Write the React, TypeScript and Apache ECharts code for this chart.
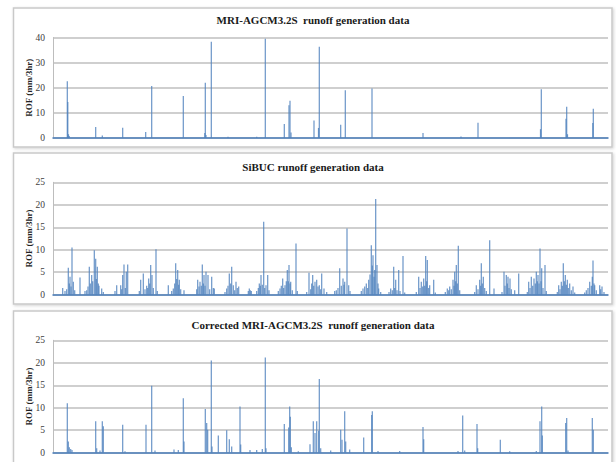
import React, { useEffect, useRef } from "react";
import * as echarts from "echarts";

// Time position (arbitrary time-step units across the record) and ROF values (mm/3hr)
const mriPos = [14.3, 14.8, 15.5, 16.2, 42.7, 49.3, 69.7, 92.7, 98.7, 130.3, 151.8, 152.3, 153, 158.3, 175, 203.7, 212.3, 231.3, 236, 237, 238, 261, 265.5, 266.3, 287.7, 292.3, 319, 370, 408, 425, 487.5, 488.3, 513, 513.7, 514.5, 539.8, 540.3];
const mriVal = [22.6, 14.3, 1.5, 0.8, 4.4, 1.0, 4.1, 2.4, 20.7, 16.7, 2, 22, 1.2, 38.3, 0.5, 0.5, 39.5, 5.6, 13, 14.8, 2.2, 7, 4, 36.3, 5.3, 19, 19.7, 2, 0.6, 6.1, 3.5, 19.4, 7.7, 12.4, 1.5, 6, 11.6];

const sibucPos = [
  9.7, 12, 13.7, 15.3, 16.3, 17, 18, 19, 20.3, 21.7, 27,
  32, 33.7, 35, 36.3, 37.3, 38.7, 39.7, 41.3, 42.7, 43.3, 44.3, 45.3, 46, 48.7, 50.3,
  62, 63.7, 67.7, 68.7, 69.7, 71, 72.3, 73.3, 74.7,
  86.3, 87.7, 90.3, 92, 93.7, 94.7, 95.7, 96.7, 97.7, 99, 100.3, 103, 104.3,
  115.3, 118.7, 120.3, 121.7, 122.7, 123.7, 124.7, 125.7, 126.3, 127.7, 131,
  143.7, 144.7, 146, 147, 148.3, 149.3, 150.3, 151, 152, 153, 155, 156.7, 158.7, 160.3, 161.3,
  172, 173.7, 175, 176.3, 177.7, 178.7, 180.3, 181.7, 183, 184.3, 185.7,
  195.3, 196.3, 197.3, 198.3,
  203.7, 205.3, 206.3, 207.3, 208, 209.3, 210.7, 211.7, 213, 214.7, 216,
  225.3, 227, 228.3, 229.7, 230.7, 232, 233.3, 234.3, 235.3, 236, 237, 237.7, 239.3, 243, 244.3,
  253.7, 256, 257.7, 258.7, 259.7, 260.7, 262, 263.7, 265, 266.3, 267.7, 268.7, 271, 273.7,
  281.7, 283.3, 285, 286.7, 288.3, 290, 291, 291.7, 294, 295.7, 297,
  308.3, 310, 311.7, 313.3, 314.7, 315.7, 317, 318.3, 319.3, 320, 321, 321.7, 322.7, 324, 325, 325.7, 327.7,
  336, 337.7, 339.3, 340.7, 341.7, 342.7, 344, 345.7, 347, 350, 351.7,
  363.3, 365.7, 367, 368.3, 369.7, 370.7, 371.7, 372.7, 373.7, 374.3, 375.7, 376.7, 380.7, 382.3,
  392.3, 394.3, 395.7, 396.7, 398.3, 400, 401, 401.7, 402.7, 403.3, 404.3, 405.3, 406.7,
  421.7, 423.3, 425, 426.7, 427.7, 428.3, 429.3, 430.3, 431.7, 433.3, 436.7, 441,
  449, 451, 452, 453.3, 454.3, 455, 456, 457, 458.3, 461.7, 465.7,
  474.3, 475.7, 477, 478.3, 479.7, 481, 482.3, 483.3, 484.3, 485, 486, 487, 488, 488.7, 490, 492, 493.3,
  504.3, 505.7, 507, 508.3, 509.3, 510.3, 511.3, 512.3, 513.3, 514.3, 515.3, 516.7, 518.3, 520, 521.7,
  531.7, 533.3, 535, 536.7, 538.3, 539.3, 540, 541, 541.7, 543.3, 546.7, 547.7, 549, 551
];
const sibucVal = [
  1.5, 0.8, 1.2, 6, 2.5, 4, 1.8, 10.5, 2.9, 1, 3.8,
  0.8, 1, 1.8, 6.2, 2.5, 4.4, 3, 9.9, 8, 3.5, 6.2, 2.5, 2, 1.4, 0.6,
  0.8, 2.1, 2.1, 1.2, 4.4, 6.7, 1.5, 5.1, 6.7,
  0.8, 3.3, 4.7, 1.2, 2, 1.5, 3.6, 2.5, 6.6, 4.4, 1.5, 10.1, 0.8,
  2.1, 0.8, 1.4, 2.5, 7, 3.5, 5.5, 2.2, 3.3, 1.2, 1,
  1.2, 3.3, 1.8, 2.9, 2, 6.7, 2.5, 4.4, 2, 5.1, 4.4, 1.2, 4, 1.5, 1.4,
  0.6, 1.4, 2, 4.7, 2.5, 6.2, 2.1, 1, 2.9, 1.5, 1.8,
  0.8, 1.4, 1, 0.8,
  0.8, 1.5, 2.5, 2, 4.4, 2.2, 16.2, 1.5, 2.1, 4.4, 1,
  0.8, 1.4, 2, 3.6, 1.5, 2.1, 3, 5.5, 3, 6.6, 2.5, 2.9, 1, 11.4, 0.8,
  0.6, 4.9, 1.2, 2.5, 4.4, 2, 2.9, 3.3, 1.8, 2.1, 1.2, 4.7, 1.4, 0.6,
  0.8, 1, 1.5, 5.9, 2, 3.6, 2.2, 2.9, 14.7, 2.1, 0.8,
  0.8, 1.4, 1.8, 2.5, 1.5, 3.3, 4.5, 11, 6.5, 8.8, 4, 5.5, 21.3, 6.6, 2.5, 1.4, 0.6,
  0.6, 1.4, 1, 6.2, 1.5, 3.3, 1, 5.5, 0.8, 8.6, 0.5,
  0.6, 4, 1.5, 2.9, 1.8, 3.6, 2, 8.6, 3, 7.7, 1.5, 2.1, 3.3, 0.5,
  0.6, 1.4, 1, 1.8, 1.2, 3.3, 2, 5.1, 3, 6.6, 2.5, 10.9, 1,
  0.6, 2.1, 1.2, 3.3, 2, 7, 2.5, 4, 1.5, 0.8, 12.1, 1.4,
  0.6, 5.1, 2, 4.4, 2.5, 4, 1.5, 3.6, 1.2, 1, 4.7,
  0.6, 2.9, 1.5, 4, 2, 3.6, 2.5, 5.1, 3, 4.4, 2.5, 10.3, 3, 5.9, 1.5, 6.6, 0.8,
  0.6, 2.1, 1.2, 2.9, 2, 7, 3, 4.4, 2.2, 3.3, 1.5, 2.5, 1, 1.8, 0.5,
  0.5, 1, 1.5, 2.9, 2, 4, 7.6, 2.5, 2.1, 1, 2.1, 1.2, 1.8, 0.6
];

const corrPos = [
  14.3, 15.3, 16.3, 17.7, 19, 42.7, 43.7, 47, 49.3, 50.3, 69.7, 72, 93, 98.7, 102, 121, 125.3, 130.3, 131,
  152.3, 153.7, 154.7, 158.3, 159, 165.3, 173.7, 176.3, 178.7, 187, 187.7, 197, 203.7, 209.3, 212.3, 213,
  231.3, 235.7, 236.7, 237.3, 238.3, 245.3, 257, 260.3, 262, 263.7, 265.7, 266.3, 267.7,
  277.7, 287.7, 289, 291.7, 292.7, 296.7, 310.7, 318.7, 319.3, 325, 346.7, 370, 370.7, 405, 409.7, 411.7,
  424, 424.7, 447.3, 456.7, 483.3, 487, 488.7, 489.3, 512.7, 513.7, 515, 539.3, 540.3
];
const corrVal = [
  11, 2.5, 1.2, 0.8, 0.6, 7, 1, 0.5, 7, 5.9, 6.2, 0.3, 6.2, 14.9, 0.5, 0.7, 0.6, 12.1, 2.5,
  9.7, 6.6, 5.1, 20.5, 1.4, 3.8, 5, 3, 1.4, 10.3, 1.8, 0.6, 0.6, 0.8, 21.2, 1,
  6.4, 5.6, 10.3, 8, 1.2, 0.3, 1.9, 7, 4.4, 7, 4.9, 16.4, 1,
  0.5, 5.1, 2.9, 9.2, 2.5, 0.7, 3.4, 8.4, 9.2, 0.4, 0.4, 5.7, 3, 0.4, 8.3, 0.5,
  6.4, 1, 2.9, 0.3, 0.4, 7, 10.3, 3.8, 6.6, 7.7, 0.5, 7.7, 5.1
];

const titles = [
  "MRI-AGCM3.2S  runoff generation data",
  "SiBUC runoff generation data",
  "Corrected MRI-AGCM3.2S  runoff generation data",
];
const yMax = [40, 25, 25];
const yStep = [10, 5, 5];
const yName = "ROF (mm/3hr)";

export default function App() {
  const ref = useRef<HTMLDivElement>(null);
  useEffect(() => {
    if (!ref.current) return;
    const chart = echarts.init(ref.current, null, { renderer: "svg" });
    const panels = [
      { pos: mriPos, val: mriVal, top: 37.5, height: 100.5 },
      { pos: sibucPos, val: sibucVal, top: 182.3, height: 112.4 },
      { pos: corrPos, val: corrVal, top: 340.3, height: 112.4 },
    ];
    const boxes = [
      { y: 8, h: 139 },
      { y: 153, h: 151 },
      { y: 311, h: 160 },
    ];
    const titleY = [20, 166.5, 325];
    const serif = "'Liberation Serif', 'Times New Roman', serif";
    const option: any = {
      animation: false,
      backgroundColor: "#ffffff",
      graphic: {
        elements: [
          ...boxes.map((b) => ({
            type: "rect",
            z: -10,
            shape: { x: 13.5, y: b.y, width: 598.5, height: b.h },
            style: {
              fill: "#ffffff",
              stroke: "#c9c9c9",
              lineWidth: 1.5,
              shadowBlur: 3,
              shadowColor: "rgba(0,0,0,0.18)",
              shadowOffsetX: 1,
              shadowOffsetY: 1,
            },
          })),
          ...titles.map((t, i) => ({
            type: "text",
            x: 313,
            y: titleY[i],
            z: 10,
            style: {
              text: t,
              fill: "#1a1a1a",
              font: `bold 11px ${serif}`,
              textAlign: "center",
              textVerticalAlign: "middle",
            },
          })),
        ],
      },
      grid: panels.map((p) => ({
        left: 53,
        width: 555,
        top: p.top,
        height: p.height,
        containLabel: false,
      })),
      xAxis: panels.map((_, i) => ({
        type: "value",
        gridIndex: i,
        min: 0,
        max: 555,
        axisLabel: { show: false },
        axisTick: { show: false },
        splitLine: { show: false },
        axisLine: { show: true, lineStyle: { color: "#4a7ebb", width: 1.5 } },
      })),
      yAxis: panels.map((_, i) => ({
        type: "value",
        gridIndex: i,
        min: 0,
        max: yMax[i],
        interval: yStep[i],
        name: yName,
        nameLocation: "middle",
        nameGap: 19.5,
        nameMoveOverlap: false,
        nameTextStyle: { fontFamily: serif, fontWeight: "bold", fontSize: 9, color: "#222" },
        axisLabel: { fontFamily: serif, fontSize: 9.5, color: "#404040", margin: 8 },
        axisTick: { show: false },
        axisLine: { show: true, lineStyle: { color: "#bdbdbd", width: 1 } },
        splitLine: { show: true, lineStyle: { color: "#bfbfbf", width: 1.5 } },
      })),
      series: panels.map((p, i) => ({
        type: "bar",
        xAxisIndex: i,
        yAxisIndex: i,
        barWidth: 1.2,
        itemStyle: { color: "#4f81bd", opacity: 0.85 },
        data: p.pos.map((x, k) => [x, p.val[k]]),
      })),
    };
    chart.setOption(option);
    return () => chart.dispose();
  }, []);
  return (
    <div
      ref={ref}
      style={{ position: "fixed", left: 0, top: 0, width: 616, height: 462, background: "#fff" }}
    />
  );
}
